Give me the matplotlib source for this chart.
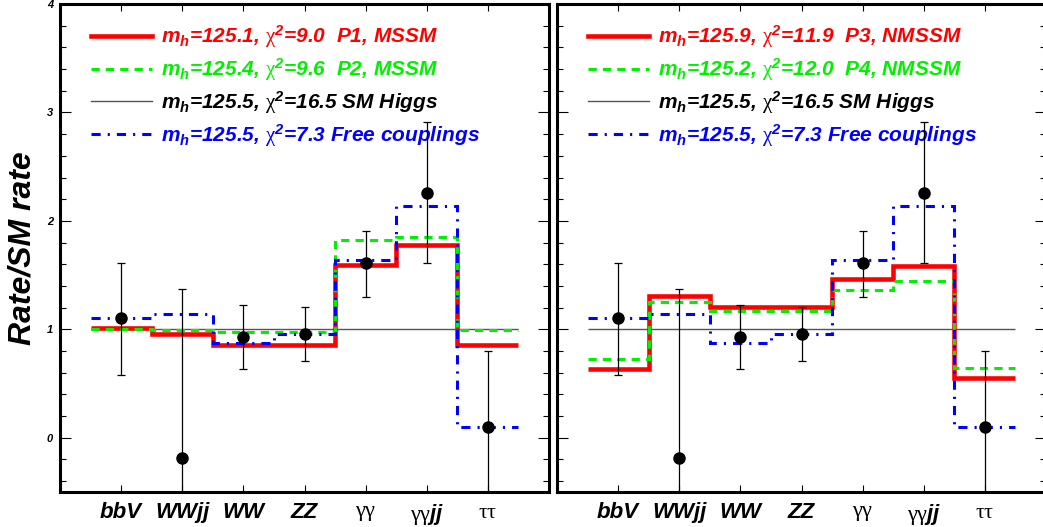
import numpy as np
import matplotlib
matplotlib.use("Agg")
import matplotlib.pyplot as plt
from matplotlib.lines import Line2D
from matplotlib.ticker import MultipleLocator

plt.rcParams['font.family'] = ['Liberation Sans', 'DejaVu Sans']
plt.rcParams['font.weight'] = 'bold'
plt.rcParams['font.style'] = 'italic'
plt.rcParams['axes.labelweight'] = 'bold'
plt.rcParams['mathtext.fontset'] = 'custom'
plt.rcParams['mathtext.rm'] = 'Liberation Sans:bold:italic'
plt.rcParams['mathtext.it'] = 'Liberation Sans:bold:italic'
plt.rcParams['mathtext.bf'] = 'Liberation Sans:bold:italic'
plt.rcParams['mathtext.sf'] = 'Liberation Serif:style=normal:weight=normal'

# channels
channels = ["bbV", "WWjj", "WW", "ZZ",
            r"$\mathsf{\gamma\gamma}$", r"$\mathsf{\gamma\gamma}$jj", r"$\mathsf{\tau\tau}$"]

# observed signal strengths with error bar ends
obs = [1.10, -0.19, 0.93, 0.96, 1.61, 2.26, 0.10]
obs_lo = [0.58, -1.75, 0.63, 0.71, 1.30, 1.61, -0.60]
obs_hi = [1.61, 1.37, 1.22, 1.21, 1.91, 2.91, 0.80]

# predictions
sm_rate = [1.0, 1.0, 1.0, 1.0, 1.0, 1.0, 1.0]
free_fit = [1.10, 1.14, 0.87, 0.96, 1.64, 2.14, 0.10]
p1_mssm = [1.01, 0.96, 0.86, 0.86, 1.59, 1.78, 0.86]
p2_mssm = [1.00, 0.99, 0.98, 0.98, 1.82, 1.85, 0.99]
p3_nmssm = [0.63, 1.31, 1.21, 1.21, 1.46, 1.58, 0.55]
p4_nmssm = [0.73, 1.25, 1.17, 1.17, 1.36, 1.45, 0.64]

left_labels = [r"$m_h$=125.1, $\mathsf{\chi}^2$=9.0  P1, MSSM",
               r"$m_h$=125.4, $\mathsf{\chi}^2$=9.6  P2, MSSM",
               r"$m_h$=125.5, $\mathsf{\chi}^2$=16.5 SM Higgs",
               r"$m_h$=125.5, $\mathsf{\chi}^2$=7.3 Free couplings"]
right_labels = [r"$m_h$=125.9, $\mathsf{\chi}^2$=11.9  P3, NMSSM",
                r"$m_h$=125.2, $\mathsf{\chi}^2$=12.0  P4, NMSSM",
                r"$m_h$=125.5, $\mathsf{\chi}^2$=16.5 SM Higgs",
                r"$m_h$=125.5, $\mathsf{\chi}^2$=7.3 Free couplings"]

RED, GREEN, BLUE, GREY = '#ff0000', '#00f000', '#0000ff', '#555555'
styles = [dict(color=RED, lw=3.3, ls='-'),
          dict(color=GREEN, lw=2.2, ls=(0, (2.7, 2.0))),
          dict(color=GREY, lw=1.0, ls='-'),
          dict(color=BLUE, lw=2.2, ls=(0, (3.0, 2.3, 0.7, 2.3)))]

x = np.arange(1, len(channels) + 1)
edges = np.arange(0.5, len(channels) + 1, 1.0)

fig = plt.figure(figsize=(10.43, 5.27), dpi=100)
ax1 = fig.add_axes([60 / 1043, 35 / 527, 489 / 1043, 488 / 527])
ax2 = fig.add_axes([557 / 1043, 35 / 527, 489 / 1043, 488 / 527])


def draw_panel(ax, model_a, model_b, labels):
    ax.stairs(sm_rate, edges, baseline=None, zorder=2, **styles[2])
    ax.stairs(model_a, edges, baseline=None, zorder=3, **styles[0])
    ax.stairs(model_b, edges, baseline=None, zorder=4, **styles[1])
    ax.stairs(free_fit, edges, baseline=None, zorder=5, **styles[3])

    o = np.array(obs)
    yerr = [o - np.array(obs_lo), np.array(obs_hi) - o]
    ax.errorbar(x, obs, yerr=yerr, fmt='o', color='black', ms=8,
                elinewidth=0.9, capsize=3, capthick=0.9, zorder=6)

    ax.set_xlim(0, 8)
    ax.set_ylim(-0.5, 4)
    ax.set_xticks(x)
    ax.set_xticklabels(channels)
    ax.yaxis.set_major_locator(MultipleLocator(1))
    ax.yaxis.set_minor_locator(MultipleLocator(0.2))
    ax.tick_params(which='both', direction='in', top=True, right=True, width=0.8)
    ax.tick_params(axis='x', which='major', length=5, pad=7, labelsize=16)
    ax.tick_params(axis='y', which='major', length=8, pad=5, labelsize=8)
    ax.tick_params(axis='y', which='minor', length=4)
    for s in ax.spines.values():
        s.set_linewidth(2.2)

    handles = [Line2D([], [], **st) for st in styles]
    leg = ax.legend(handles, labels, loc='upper left', bbox_to_anchor=(0.063, 0.960),
                    frameon=False, fontsize=15, handlelength=2.93, handletextpad=0.43,
                    labelspacing=0.28, borderpad=0, borderaxespad=0)
    for t, c in zip(leg.get_texts(), ['red', GREEN, 'black', BLUE]):
        t.set_color(c)


draw_panel(ax1, p1_mssm, p2_mssm, left_labels)
draw_panel(ax2, p3_nmssm, p4_nmssm, right_labels)
ax2.tick_params(axis='y', labelleft=False)

ax1.set_ylabel("Rate/SM rate", fontsize=23, fontweight='bold')
ax1.yaxis.set_label_coords(-0.045, 0.5)

fig.savefig("out.png", dpi=100)
